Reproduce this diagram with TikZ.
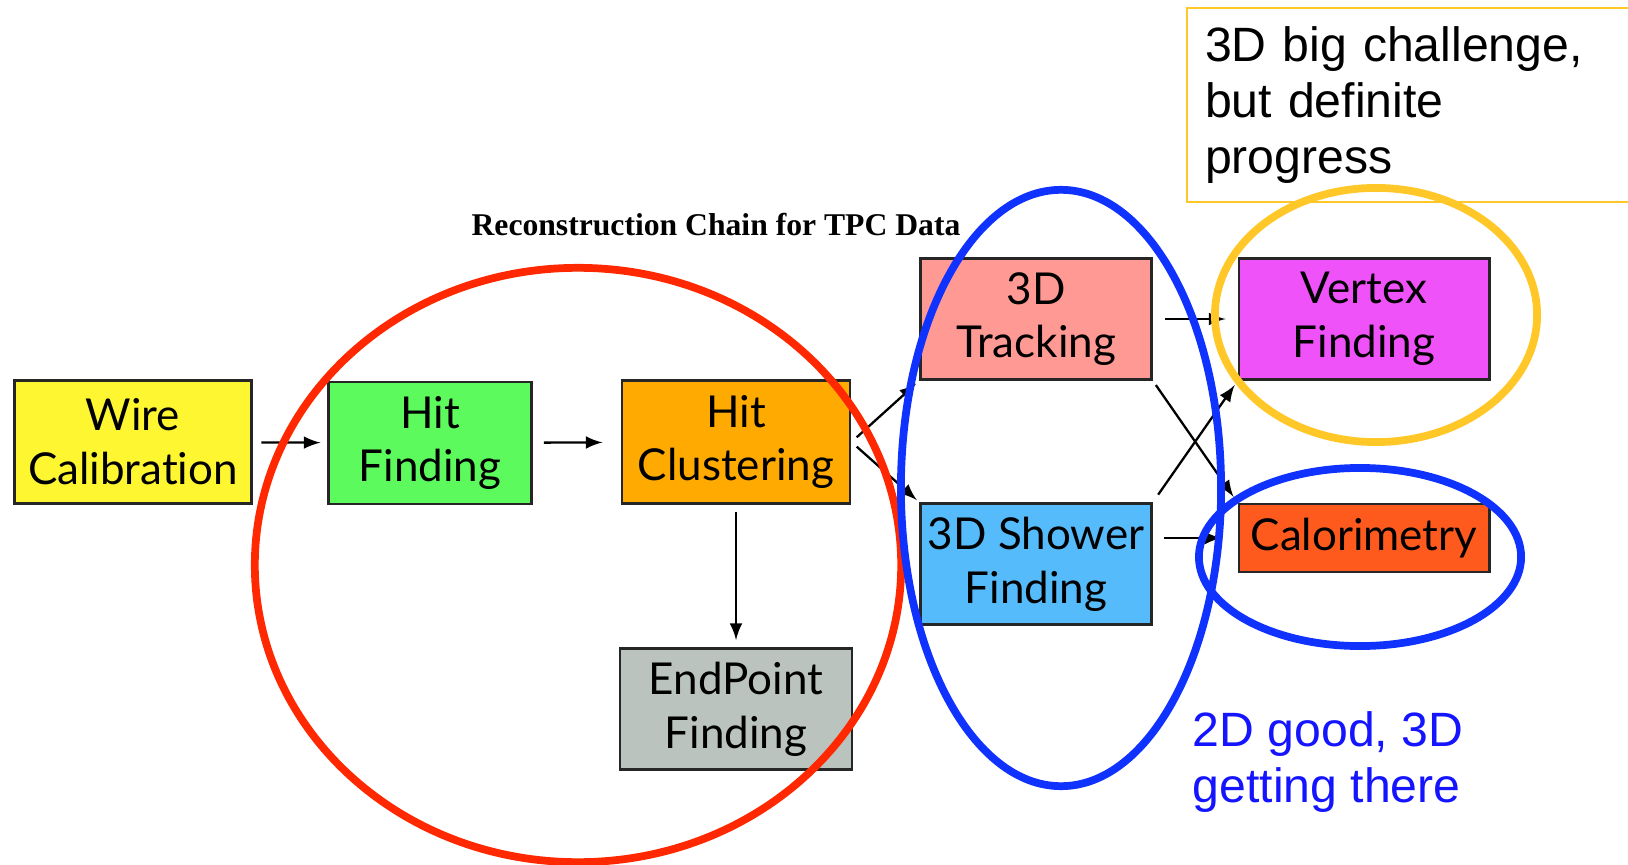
\documentclass[tikz,border=0pt]{standalone}
\usepackage{fontspec}
\setmainfont{Lato}[Ligatures={NoCommon}]
\newfontfamily\helv{Liberation Sans}
\newfontfamily\serifbold{Liberation Serif}
\usepackage{color}
\definecolor{mywire}{RGB}{255,246,50}
\definecolor{myhitfind}{RGB}{92,250,92}
\definecolor{myhitclus}{RGB}{255,170,0}
\definecolor{myendpoint}{RGB}{186,195,190}
\definecolor{mytrack}{RGB}{255,153,148}
\definecolor{myshower}{RGB}{85,187,250}
\definecolor{myvertex}{RGB}{240,82,250}
\definecolor{mycalo}{RGB}{255,90,30}
\definecolor{myred}{RGB}{255,40,0}
\definecolor{myblue}{RGB}{15,50,255}
\definecolor{mygold}{RGB}{255,200,40}
\definecolor{mytextblue}{RGB}{20,20,255}
\usepackage{tikz}
\usetikzlibrary{arrows,positioning}
\tikzstyle{stage}=[draw=black!85,line width=0.8pt,align=center,inner sep=0pt,font=\fontsize{12.5}{15.3}\selectfont]
\tikzstyle{flow}=[line width=0.65pt,-latex]
\tikzstyle{ring}=[line width=2.2pt]
\tikzstyle{note}=[align=left,inner sep=0pt,font=\helv\fontsize{13.7}{15.9}\selectfont]

\begin{document}
\begin{tikzpicture}[x=0.01cm,y=-0.01cm]
\useasboundingbox (0,0) rectangle (1628,864);
\draw (716, 225) node [font=\serifbold\bfseries\fontsize{9}{11}\selectfont] (title) {Reconstruction Chain for TPC Data};
\draw (133, 442) node [stage, fill=mywire, minimum width=2.37cm, minimum height=1.23cm] (wire) {Wire\\Calibration};
\draw (430, 443) node [stage, fill=myhitfind, minimum width=2.03cm, minimum height=1.22cm] (hitf) {Hit\\Finding};
\draw (736, 442) node [stage, fill=myhitclus, minimum width=2.28cm, minimum height=1.23cm] (hitc) {Hit\\Clustering};
\draw (736, 709) node [stage, fill=myendpoint, minimum width=2.32cm, minimum height=1.21cm] (endp) {EndPoint\\Finding};
\draw (1036, 319) node [stage, fill=mytrack, minimum width=2.31cm, minimum height=1.21cm] (trk) {3D\\Tracking};
\draw (1036, 564) node [stage, fill=myshower, minimum width=2.31cm, minimum height=1.21cm] (shw) {3D Shower\\Finding};
\draw (1364, 319) node [stage, fill=myvertex, minimum width=2.5cm, minimum height=1.21cm] (vtx) {Vertex\\Finding};
\draw (1364, 538) node [stage, fill=mycalo, minimum width=2.5cm, minimum height=0.68cm] (cal) {Calorimetry};
\draw[flow, shorten <=0.085cm, shorten >=0.065cm] (wire) -- (hitf);
\draw[flow, shorten <=0.11cm, shorten >=0.18cm] (hitf) -- (hitc);
\draw[flow, shorten <=0.07cm, shorten >=0.07cm] (hitc) -- (endp);
\draw[flow, shorten <=0.07cm, shorten >=0.04cm] (hitc.east) -- (trk.south west);
\draw[flow, shorten <=0.07cm, shorten >=0.03cm] (hitc.east) -- (shw.north west);
\draw[flow, shorten <=0.12cm, shorten >=0.12cm] (trk) -- (vtx);
\draw[flow, shorten <=0.05cm, shorten >=0.07cm] (trk.south east) -- (cal.north west);
\draw[flow, shorten <=0.09cm, shorten >=0.05cm] (shw.north east) -- (vtx.south west);
\draw[flow, shorten <=0.11cm, shorten >=0.16cm] (shw.east |- cal.west) -- (cal.west);
% rings round the groups
\draw[ring, myred] (578, 565) ellipse [x radius=3.23cm, y radius=2.97cm];
\draw[ring, myblue] (1061, 488) ellipse [x radius=1.6cm, y radius=2.98cm];
\draw[ring, mygold] (1376, 315) ellipse [x radius=1.61cm, y radius=1.27cm];
\draw[ring, myblue] (1360, 557) ellipse [x radius=1.61cm, y radius=0.89cm];
\draw (1186, 7) node [note, draw=mygold, line width=0.6pt, anchor=north west, minimum width=4.42cm, minimum height=1.94cm, text width=4.06cm, inner xsep=0.18cm] (hard) {3D big challenge,\\but definite\\progress};
\draw (1192, 762) node [note, text=mytextblue, anchor=west] (good) {2D good, 3D\\getting there};
\end{tikzpicture}
\end{document}
